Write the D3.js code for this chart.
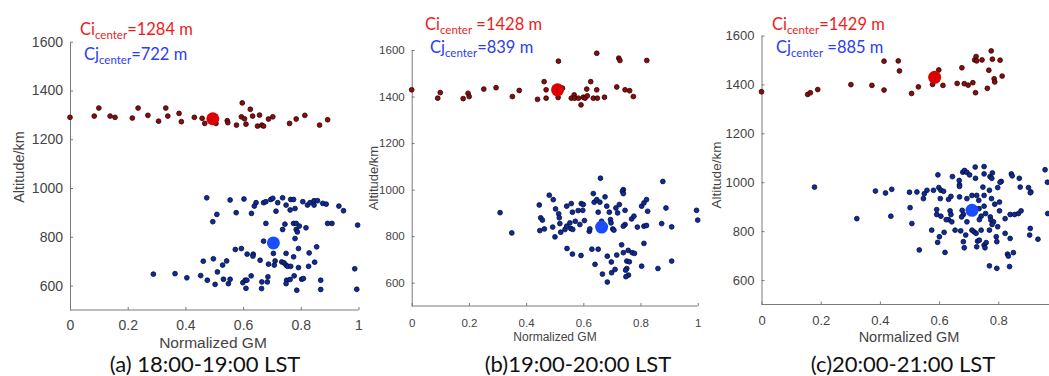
<!DOCTYPE html>
<html>
<head>
<meta charset="utf-8">
<script src="https://cdn.jsdelivr.net/npm/d3@7"></script>
<style>
  body { margin: 0; background: #fff; }
  svg { display: block; }
  .axis path, .axis line { stroke: #7a7a7a; }
  .axis text { fill: #444; font-family: "Liberation Sans", Arial, sans-serif; }
</style>
</head>
<body>
<script>
// panel (a) 18:00-19:00 LST  -- [normalized GM, altitude]
var aIce = [[0,1290],[0.084,1295],[0.10,1328],[0.139,1295],[0.156,1290],[0.216,1287],[0.236,1328],[0.27,1298],
  [0.307,1274],[0.332,1328],[0.339,1295],[0.378,1306],[0.386,1272],[0.431,1290],[0.458,1286],[0.467,1265],
  [0.506,1265],[0.545,1276],[0.547,1268],[0.577,1258],[0.597,1349],[0.594,1292],[0.605,1284],[0.61,1262],
  [0.625,1323],[0.633,1295],[0.65,1254],[0.657,1299],[0.665,1258],[0.671,1254],[0.688,1283],[0.703,1292],
  [0.761,1265],[0.784,1283],[0.814,1298],[0.865,1258],[0.893,1280]];
var aWater = [[0.474,960],[0.555,951],[0.603,955],[0.645,940],[0.639,926],[0.671,940],[0.679,944],[0.696,953],
  [0.703,958],[0.72,940],[0.737,960],[0.749,930],[0.765,953],[0.775,953],[0.763,910],[0.78,916],[0.807,944],
  [0.823,930],[0.832,940],[0.846,930],[0.846,948],[0.858,948],[0.876,937],[0.888,934],[0.932,926],[0.948,907],
  [0.576,899],[0.629,896],[0.509,892],[0.495,862],[0.714,905],[0.679,855],[0.745,852],[0.737,830],[0.775,855],
  [0.784,855],[0.784,830],[0.795,844],[0.788,820],[0.818,837],[0.893,855],[0.908,855],[0.997,848],[0.78,793],
  [0.671,782],[0.705,732],[0.749,732],[0.775,718],[0.792,752],[0.829,734],[0.855,759],[0.573,748],[0.594,752],
  [0.614,729],[0.635,729],[0.634,721],[0.659,704],[0.711,701],[0.688,688],[0.708,684],[0.734,697],[0.742,693],
  [0.749,684],[0.754,679],[0.765,679],[0.792,674],[0.827,679],[0.848,696],[0.462,700],[0.497,710],[0.543,701],
  [0.529,684],[0.511,656],[0.289,647],[0.364,649],[0.405,632],[0.453,641],[0.476,622],[0.503,605],[0.532,626],
  [0.549,608],[0.555,626],[0.599,612],[0.607,622],[0.613,622],[0.628,640],[0.61,589],[0.664,588],[0.665,615],
  [0.684,615],[0.686,636],[0.751,622],[0.749,608],[0.777,640],[0.763,625],[0.803,626],[0.809,629],[0.786,581],
  [0.869,622],[0.869,584],[0.987,669],[0.994,585]];
var aCenters = [[0.495,1284],[0.705,775]];

// panel (b) 19:00-20:00 LST
var bIce = [[0,1429],[0.091,1393],[0.10,1417],[0.18,1391],[0.197,1414],[0.201,1400],[0.252,1432],[0.295,1438],
  [0.352,1400],[0.376,1426],[0.44,1388],[0.463,1464],[0.47,1429],[0.47,1393],[0.513,1552],[0.512,1396],
  [0.527,1436],[0.558,1393],[0.568,1407],[0.57,1393],[0.583,1393],[0.592,1364],[0.6,1397],[0.606,1393],
  [0.614,1403],[0.612,1432],[0.626,1464],[0.635,1393],[0.647,1586],[0.647,1429],[0.649,1393],[0.674,1397],
  [0.717,1441],[0.724,1565],[0.728,1555],[0.746,1429],[0.762,1425],[0.775,1400],[0.822,1555]];
var bWater = [[0.66,1049],[0.878,1035],[0.74,1000],[0.309,901],[0.35,814],[0.446,934],[0.451,879],[0.457,869],
  [0.448,824],[0.464,831],[0.481,976],[0.495,957],[0.493,839],[0.501,797],[0.503,917],[0.514,896],[0.516,879],
  [0.518,854],[0.521,817],[0.536,829],[0.542,929],[0.542,843],[0.558,940],[0.553,857],[0.556,833],[0.563,829],
  [0.562,903],[0.572,864],[0.582,910],[0.588,850],[0.593,940],[0.598,911],[0.6,936],[0.604,867],[0.621,821],
  [0.623,831],[0.635,983],[0.638,946],[0.647,957],[0.652,903],[0.658,946],[0.664,864],[0.676,969],[0.682,929],
  [0.691,903],[0.695,871],[0.697,857],[0.703,831],[0.707,826],[0.714,921],[0.72,900],[0.726,936],[0.737,993],
  [0.74,983],[0.746,911],[0.746,850],[0.74,843],[0.769,874],[0.777,886],[0.789,839],[0.804,929],[0.812,943],
  [0.821,957],[0.812,843],[0.821,846],[0.825,907],[0.874,854],[0.889,921],[0.909,840],[0.996,911],[1.0,869],
  [0.543,747],[0.562,723],[0.592,717],[0.63,744],[0.652,744],[0.684,714],[0.698,689],[0.717,719],[0.734,763],
  [0.74,729],[0.757,739],[0.771,729],[0.779,726],[0.752,693],[0.761,690],[0.752,661],[0.748,654],[0.758,633],
  [0.749,626],[0.812,769],[0.804,671],[0.861,661],[0.909,693],[0.641,679],[0.667,637],[0.699,643],[0.711,657],
  [0.684,603]];
var bCenters = [[0.51,1429],[0.664,839]];

// panel (c) 20:00-21:00 LST
var cIce = [[0,1370],[0.156,1359],[0.165,1366],[0.19,1379],[0.302,1399],[0.373,1396],[0.414,1495],[0.414,1377],
  [0.462,1496],[0.466,1455],[0.507,1363],[0.53,1390],[0.578,1400],[0.599,1459],[0.613,1396],[0.661,1404],
  [0.677,1468],[0.685,1403],[0.698,1397],[0.714,1407],[0.723,1366],[0.72,1500],[0.725,1514],[0.727,1496],
  [0.745,1500],[0.776,1537],[0.78,1503],[0.768,1458],[0.763,1384],[0.786,1423],[0.788,1410],[0.806,1499],
  [0.813,1434]];
var cWater = [[0.596,1030],[0.645,1023],[0.668,1007],[0.669,989],[0.68,1041],[0.686,1048],[0.694,1040],
  [0.703,1030],[0.722,1062],[0.723,1016],[0.752,1064],[0.752,1034],[0.772,1023],[0.78,1038],[0.778,1016],
  [0.81,1003],[0.844,1034],[0.847,1026],[0.871,1016],[0.958,1051],[0.966,1000],[0.91,960],
  [0.179,980],[0.385,964],[0.419,956],[0.44,971],[0.5,959],[0.525,960],[0.547,933],[0.55,953],[0.559,967],
  [0.581,967],[0.599,978],[0.606,967],[0.615,963],[0.604,933],[0.632,930],[0.64,942],[0.669,983],[0.669,940],
  [0.694,933],[0.711,946],[0.727,946],[0.734,926],[0.752,946],[0.748,980],[0.77,967],[0.798,978],[0.806,1000],
  [0.777,933],[0.788,910],[0.804,919],[0.874,980],[0.902,978],[0.908,957],[0.502,896],[0.508,831],[0.437,861],
  [0.322,851],[0.592,888],[0.592,868],[0.606,861],[0.637,883],[0.64,868],[0.632,847],[0.624,847],[0.643,838],
  [0.678,885],[0.682,868],[0.676,858],[0.694,838],[0.723,892],[0.735,892],[0.742,861],[0.736,847],[0.752,902],
  [0.757,872],[0.773,858],[0.775,845],[0.784,838],[0.779,827],[0.804,883],[0.823,851],[0.84,868],[0.855,868],
  [0.868,872],[0.877,883],[0.798,818],[0.967,872],[0.908,811],[0.906,784],[0.934,767],[0.575,804],[0.595,754],
  [0.601,777],[0.617,795],[0.654,804],[0.673,801],[0.682,757],[0.685,732],[0.69,784],[0.711,804],[0.718,797],
  [0.725,791],[0.73,759],[0.736,763],[0.742,804],[0.727,736],[0.752,743],[0.755,732],[0.759,753],[0.77,804],
  [0.793,777],[0.795,757],[0.823,791],[0.84,770],[0.831,706],[0.834,698],[0.851,712],[0.533,723],[0.62,713],
  [0.77,658],[0.795,648],[0.838,655]];
var cCenters = [[0.585,1429],[0.711,885]];

var captions = ["(a) 18:00-19:00 LST", "(b)19:00-20:00 LST", "(c)20:00-21:00 LST"];
var iceLabels = [["Ci", "center", "=1284 m"], ["Ci", "center", " =1428 m"], ["Ci", "center", "=1429 m"]];
var waterLabels = [["Cj", "center", "=722 m"], ["Cj", "center", "=839 m"], ["Cj", "center", " =885 m"]];
var xTicks = [0, 0.2, 0.4, 0.6, 0.8, 1];
var xTicksCut = [0, 0.2, 0.4, 0.6, 0.8];   // last panel runs off the page edge
var yTicks = [600, 800, 1000, 1200, 1400, 1600];

var W = 1049, H = 376;
var svg = d3.select("body").append("svg").attr("width", W).attr("height", H);

// layout of each panel (pixel boxes); the three sub-figures were pasted at slightly different scales
var panels = [
  { ice: aIce, water: aWater, centers: aCenters, ticks: xTicks, x0: 70, x1: 358.5, yb: 310, yt: 41.7,
    tickFs: 14, labFs: 15.5, yFs: 14.5, ylab: [19, 167], xlab: [213, 347.5], cap: [205, 372], ci: [80, 35], cj: [84, 60] },
  { ice: bIce, water: bWater, centers: bCenters, ticks: xTicks, x0: 411.7, x1: 697.7, yb: 306, yt: 50,
    tickFs: 11.5, labFs: 12, yFs: 13, ylab: [373, 178], xlab: [555, 341], cap: [578, 372], ci: [425, 29.5], cj: [430, 53] },
  { ice: cIce, water: cWater, centers: cCenters, ticks: xTicksCut, x0: 761.5, x1: 1057.5, yb: 304.5, yt: 35.5,
    tickFs: 13, labFs: 14.5, yFs: 13.5, ylab: [716, 175], xlab: [909, 342], cap: [903, 372], ci: [772, 30], cj: [776, 53] }
];

panels.forEach(function (p, i) {
  var x = d3.scaleLinear().domain([0, 1]).range([p.x0, p.x1]);
  var y = d3.scaleLinear().domain([500, 1600]).range([p.yb, p.yt]);
  var g = svg.append("g");

  var xAxis = g.append("g")
    .attr("class", "axis")
    .attr("transform", "translate(0," + p.yb + ")")
    .call(d3.axisBottom(x).tickValues(p.ticks).tickFormat(d3.format("~g")).tickSizeInner(-3).tickSizeOuter(0)
      .tickPadding(24 - p.tickFs));
  // axis line runs on to the page edge in the last panel
  xAxis.select(".domain").attr("d", "M" + p.x0 + ",0H" + Math.min(p.x1, W));

  var yAxis = g.append("g")
    .attr("class", "axis")
    .attr("transform", "translate(" + p.x0 + ",0)")
    .call(d3.axisLeft(y).tickValues(yTicks).tickFormat(d3.format("d")).tickSizeInner(-3).tickSizeOuter(0).tickPadding(7));

  xAxis.selectAll("text").style("font-size", p.tickFs + "px");
  yAxis.selectAll("text").style("font-size", p.tickFs + "px");

  g.append("text")
    .attr("transform", "translate(" + p.ylab[0] + "," + p.ylab[1] + ") rotate(-90)")
    .attr("text-anchor", "middle")
    .attr("dy", "0.35em")
    .style("font-family", "'Liberation Sans', Arial, sans-serif")
    .style("font-size", p.yFs + "px")
    .style("fill", "#444")
    .text("Altitude/km");

  g.append("text")
    .attr("x", p.xlab[0]).attr("y", p.xlab[1])
    .attr("text-anchor", "middle")
    .style("font-family", "'Liberation Sans', Arial, sans-serif")
    .style("font-size", p.labFs + "px")
    .style("fill", "#444")
    .text("Normalized GM");

  g.append("text")
    .attr("x", p.cap[0]).attr("y", p.cap[1])
    .attr("text-anchor", "middle")
    .style("font-family", "Lato, 'Open Sans', sans-serif")
    .style("font-size", "22px")
    .style("fill", "#111")
    .text(captions[i]);

  // small dots
  g.selectAll(".ice").data(p.ice).enter().append("circle")
    .attr("cx", function (d) { return x(d[0]); })
    .attr("cy", function (d) { return y(d[1]); })
    .attr("r", 2.4)
    .style("fill", "#8a0c0c")
    .style("stroke", "#2a0000")
    .style("stroke-width", 0.8);

  g.selectAll(".water").data(p.water).enter().append("circle")
    .attr("cx", function (d) { return x(d[0]); })
    .attr("cy", function (d) { return y(d[1]); })
    .attr("r", 2.4)
    .style("fill", "#0b2c9c")
    .style("stroke", "#050a30")
    .style("stroke-width", 0.8);

  // cluster centres
  g.selectAll(".center").data(p.centers).enter().append("circle")
    .attr("cx", function (d) { return x(d[0]); })
    .attr("cy", function (d) { return y(d[1]); })
    .attr("r", 6.5)
    .style("fill", function (d, k) { return k === 0 ? "#dd0000" : "#1a4dff"; });

  [[iceLabels[i], p.ci, "#ee1c1c"], [waterLabels[i], p.cj, "#2b3df5"]].forEach(function (l) {
    var t = g.append("text")
      .attr("x", l[1][0]).attr("y", l[1][1])
      .style("font-family", "Lato, 'Open Sans', sans-serif")
      .style("font-size", "16.5px")
      .style("fill", l[2]);
    t.append("tspan").text(l[0][0]);
    t.append("tspan").attr("dy", 4).style("font-size", "11.5px").text(l[0][1]);
    t.append("tspan").attr("dy", -4).text(l[0][2]);
  });
});
</script>
</body>
</html>
